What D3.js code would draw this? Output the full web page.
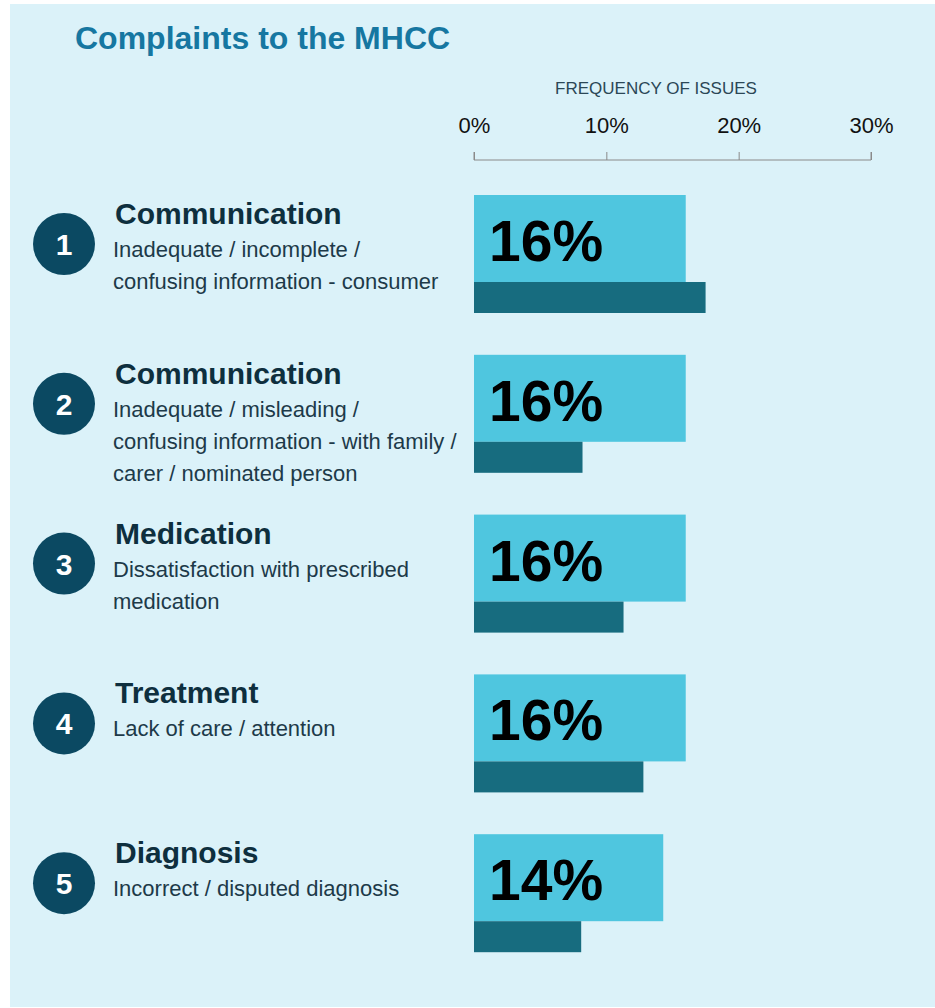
<!DOCTYPE html>
<html>
<head>
<meta charset="utf-8">
<script src="https://cdn.jsdelivr.net/npm/d3@7"></script>
<style>
  body { margin: 0; background: #fff; }
  svg { display: block; }
</style>
</head>
<body>
<div class="container"></div>
<script>
const width = 935, height = 1008;

// data
const ranks = [1, 2, 3, 4, 5];
const categories = ["Communication", "Communication", "Medication", "Treatment", "Diagnosis"];
const descriptions = [
  ["Inadequate / incomplete /", "confusing information - consumer"],
  ["Inadequate / misleading /", "confusing information - with family /", "carer / nominated person"],
  ["Dissatisfaction with prescribed", "medication"],
  ["Lack of care / attention"],
  ["Incorrect / disputed diagnosis"]
];
const shareValues = [16, 16, 16, 16, 14];          // light bars, labelled
const shareWidths = [16, 16, 16, 16, 14.3];        // light bar lengths as drawn
const secondValues = [17.5, 8.2, 11.3, 12.8, 8.1]; // dark bars
const tickValues = [0, 10, 20, 30];

const data = ranks.map((r, i) => ({
  rank: r,
  title: categories[i],
  lines: descriptions[i],
  share: shareValues[i],
  shareW: shareWidths[i],
  second: secondValues[i]
}));

const font = "Liberation Sans, Arial, sans-serif";

const svg = d3.select(".container")
  .append("svg")
  .attr("width", width)
  .attr("height", height);

svg.append("rect")
  .attr("x", 10).attr("y", 4)
  .attr("width", width - 10).attr("height", 1003)
  .attr("fill", "#dbf2f9");

svg.append("text")
  .attr("x", 75).attr("y", 49)
  .attr("font-family", font)
  .attr("font-weight", "bold")
  .attr("font-size", 32)
  .attr("fill", "#1677a1")
  .text("Complaints to the MHCC");

const x = d3.scaleLinear().domain([0, 30]).range([474, 871]);
const y = d3.scaleBand().domain(ranks).range([195, 994]);
const lightH = 87, darkH = 31;

// axis
svg.append("text")
  .attr("x", 656).attr("y", 94)
  .attr("text-anchor", "middle")
  .attr("font-family", font)
  .attr("font-size", 17)
  .attr("fill", "#2b4756")
  .text("FREQUENCY OF ISSUES");

const axis = svg.append("g")
  .attr("transform", "translate(0,160)")
  .call(d3.axisTop(x).tickValues(tickValues).tickSize(8).tickFormat(d => d + "%").tickPadding(19));
axis.select(".domain").attr("stroke", "#8a8a8a").attr("d", `M${x(0)},-8V0H${x(30)}V-8`);
axis.selectAll(".tick line").attr("stroke", "#8a8a8a");
axis.selectAll(".tick text")
  .attr("font-family", font)
  .attr("font-size", 22)
  .attr("fill", "#111");

const row = svg.append("g")
  .selectAll("g")
  .data(data)
  .join("g")
  .attr("transform", d => `translate(0,${y(d.rank)})`);

row.append("rect")
  .attr("x", x(0))
  .attr("y", 0)
  .attr("width", d => x(d.shareW) - x(0))
  .attr("height", lightH)
  .attr("fill", "#4fc6df");

row.append("rect")
  .attr("x", x(0))
  .attr("y", lightH)
  .attr("width", d => x(d.second) - x(0))
  .attr("height", darkH)
  .attr("fill", "#176c7f");

row.append("text")
  .attr("x", 489)
  .attr("y", 66)
  .attr("font-family", font)
  .attr("font-weight", "bold")
  .attr("font-size", 57)
  .attr("fill", "#000")
  .text(d => d.share + "%");

row.append("circle")
  .attr("cx", 64)
  .attr("cy", 49)
  .attr("r", 31)
  .attr("fill", "#0b4962");

row.append("text")
  .attr("x", 64)
  .attr("y", 60)
  .attr("text-anchor", "middle")
  .attr("font-family", font)
  .attr("font-weight", "bold")
  .attr("font-size", 30)
  .attr("fill", "#fff")
  .text(d => d.rank);

row.append("text")
  .attr("x", 115)
  .attr("y", 29)
  .attr("font-family", font)
  .attr("font-weight", "bold")
  .attr("font-size", 30)
  .attr("fill", "#0e2f3e")
  .text(d => d.title);

row.each(function(d) {
  d3.select(this).selectAll(".sub")
    .data(d.lines)
    .join("text")
    .attr("class", "sub")
    .attr("x", 113)
    .attr("y", (t, k) => 62 + k * 32)
    .attr("font-family", font)
    .attr("font-size", 22)
    .attr("fill", "#1d3a49")
    .text(t => t);
});
</script>
</body>
</html>
